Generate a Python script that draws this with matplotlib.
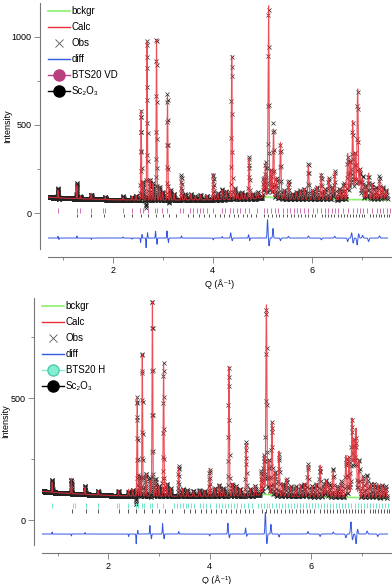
import numpy as np
import matplotlib.pyplot as plt
from matplotlib.lines import Line2D

plt.rcParams['font.family'] = ['Liberation Sans', 'DejaVu Sans']
plt.rcParams['font.size'] = 6.5

# ---------------- top panel: BTS20 VD + Sc2O3 ----------------
bg_top_q = [0.70, 1.0, 1.5, 2.0, 2.5, 3.0, 4.0, 4.8, 5.1, 5.4, 6.0, 7.0, 7.5]
bg_top_i = [90, 85, 80, 76, 74, 74, 76, 80, 92, 80, 78, 76, 76]

peaks_top_q = [0.89, 1.27, 1.34, 1.56, 1.84, 2.20, 2.38, 2.46, 2.56, 2.60, 2.68, 2.74,
               2.80, 2.87, 2.93, 2.99, 3.09, 3.15, 3.22, 3.37, 3.45, 3.56, 3.65, 3.75,
               3.88, 4.01, 4.10, 4.19, 4.27, 4.38, 4.45, 4.50, 4.58, 4.65, 4.73, 4.80,
               4.90, 5.02, 5.06, 5.12, 5.17, 5.22, 5.28, 5.36, 5.43, 5.52, 5.60, 5.68,
               5.76, 5.84, 5.92, 6.00, 6.09, 6.18, 6.25, 6.33, 6.40, 6.45, 6.55, 6.63,
               6.71, 6.76, 6.81, 6.86, 6.91, 6.96, 7.01, 7.07, 7.13, 7.20, 7.27, 7.35,
               7.42, 7.48]
peaks_top_i = [130, 158, 95, 113, 92, 90, 95, 100, 582, 180, 975, 190,
               170, 1000, 150, 120, 667, 130, 110, 203, 110, 110, 96, 105,
               100, 226, 115, 130, 125, 893, 140, 113, 120, 110, 316, 110,
               120, 200, 288, 1186, 250, 480, 200, 401, 130, 175, 110, 120,
               130, 140, 271, 130, 150, 226, 140, 198, 150, 232, 140, 170,
               339, 300, 525, 350, 706, 250, 198, 160, 232, 170, 150, 198,
               150, 130]

diff_top_q = [0.89, 0.91, 1.27, 1.56, 2.20, 2.38, 2.55, 2.58, 2.66, 2.69, 2.85, 2.88,
              3.08, 3.11, 3.37, 4.01, 4.19, 4.36, 4.39, 4.72, 4.74, 5.10, 5.13, 5.21,
              5.36, 5.52, 5.92, 6.18, 6.45, 6.71, 6.79, 6.82, 6.90, 6.93, 7.01, 7.13,
              7.35]
diff_top_a = [10, -8, 12, -8, 6, -6, -25, 20, -55, 30, 40, -35,
              40, -25, 12, -10, 8, 30, -15, 20, -15, 105, -45, 55,
              -15, 10, 12, -10, 10, -20, 30, -30, -40, 25, 15, -20,
              12]
diff_top_offset = -141

refl_vd = [0.89, 1.27, 1.34, 1.56, 1.80, 1.84, 2.20, 2.38, 2.53, 2.60, 2.69, 2.83,
           2.87, 2.97, 3.08, 3.35, 3.41, 3.55, 3.60, 3.68, 3.75, 3.81, 3.88, 4.01,
           4.18, 4.25, 4.34, 4.41, 4.49, 4.55, 4.65, 4.72, 4.89, 5.02, 5.09, 5.17,
           5.24, 5.32, 5.41, 5.49, 5.56, 5.63, 5.69, 5.76, 5.84, 5.92, 6.02, 6.09,
           6.17, 6.25, 6.32, 6.39, 6.45, 6.52, 6.62, 6.72, 6.82, 6.89, 6.96, 7.02,
           7.09, 7.19, 7.29, 7.35, 7.42, 7.49, 7.55]

# ---------------- bottom panel: BTS20 H + Sc2O3 ----------------
bg_bot_q = [0.70, 1.0, 1.5, 2.0, 2.5, 3.0, 4.0, 4.8, 5.1, 5.4, 6.0, 7.0, 7.5]
bg_bot_i = [118, 112, 106, 101, 99, 98, 98, 99, 106, 98, 96, 92, 90]

peaks_bot_q = [0.89, 1.27, 1.54, 1.80, 2.20, 2.40, 2.48, 2.57, 2.62, 2.67, 2.74, 2.83,
               2.87, 2.93, 3.00, 3.09, 3.16, 3.23, 3.39, 3.47, 3.56, 3.68, 3.80, 3.90,
               4.00, 4.10, 4.19, 4.27, 4.38, 4.45, 4.52, 4.60, 4.72, 4.80, 4.90, 5.02,
               5.07, 5.12, 5.17, 5.23, 5.29, 5.37, 5.45, 5.52, 5.60, 5.70, 5.80, 5.87,
               5.94, 6.02, 6.10, 6.18, 6.25, 6.30, 6.36, 6.44, 6.52, 6.60, 6.69, 6.75,
               6.81, 6.85, 6.89, 6.95, 7.03, 7.11, 7.18, 7.25, 7.32, 7.40, 7.47]
peaks_bot_i = [156, 172, 135, 120, 120, 127, 125, 504, 180, 689, 190, 164,
               910, 170, 140, 648, 150, 130, 213, 130, 125, 120, 125, 120,
               213, 130, 145, 130, 630, 150, 140, 130, 315, 130, 140, 200,
               266, 890, 250, 402, 200, 283, 150, 170, 140, 140, 145, 150,
               221, 140, 150, 225, 150, 164, 150, 205, 140, 160, 266, 260,
               418, 330, 377, 250, 180, 176, 150, 150, 150, 145, 140]

diff_bot_q = [0.89, 1.27, 1.54, 2.40, 2.55, 2.58, 2.82, 2.85, 3.07, 3.10, 3.39, 4.00,
              4.36, 4.39, 4.71, 4.73, 5.10, 5.13, 5.21, 5.37, 5.94, 6.18, 6.44, 6.69,
              6.79, 6.82, 6.89, 6.92, 7.11, 7.32]
diff_bot_a = [8, -8, 6, -10, -40, 15, 35, -20, 45, -20, 10, -8,
              45, -15, 25, -10, 90, -40, 40, -12, 10, -10, 8, -15,
              50, -25, -40, 20, 12, -10]
diff_bot_offset = -57

refl_h = [0.89, 1.31, 1.35, 1.56, 1.80, 2.18, 2.22, 2.38, 2.54, 2.58, 2.66, 2.70,
          2.83, 2.87, 2.97, 3.08, 3.30, 3.36, 3.42, 3.48, 3.53, 3.58, 3.64, 3.70,
          3.80, 3.86, 3.92, 4.00, 4.12, 4.18, 4.24, 4.30, 4.36, 4.42, 4.48, 4.54,
          4.62, 4.68, 4.76, 4.84, 4.95, 5.02, 5.08, 5.13, 5.18, 5.24, 5.30, 5.36,
          5.42, 5.48, 5.54, 5.60, 5.66, 5.72, 5.78, 5.84, 5.90, 5.96, 6.02, 6.08,
          6.14, 6.20, 6.26, 6.32, 6.38, 6.44, 6.50, 6.56, 6.62, 6.68, 6.74, 6.80,
          6.86, 6.92, 6.98, 7.04, 7.10, 7.16, 7.22, 7.28, 7.34, 7.40, 7.46, 7.52]

refl_sc2o3 = [1.276, 1.563, 1.805, 2.210, 2.387, 2.552, 2.707, 2.853, 2.992, 3.126,
              3.253, 3.494, 3.609, 3.720, 3.828, 3.933, 4.035, 4.135, 4.232, 4.327,
              4.420, 4.511, 4.601, 4.688, 4.774, 4.859, 5.024, 5.104, 5.183, 5.261,
              5.338, 5.414, 5.488, 5.562, 5.635, 5.706, 5.777, 5.847, 5.917, 5.985,
              6.053, 6.186, 6.251, 6.316, 6.380, 6.443, 6.506, 6.569, 6.630, 6.691,
              6.752, 6.812, 6.871, 6.930, 6.989, 7.047, 7.162, 7.218, 7.274, 7.330,
              7.385, 7.440, 7.495, 7.549]

q = np.geomspace(0.70, 7.51, 2400)


def peak_sum(centres, amps, base_width):
    out = np.zeros_like(q)
    for c, a in zip(centres, amps):
        w = base_width + 0.0012 * c
        out += a * np.exp(-0.5 * ((q - c) / w) ** 2)
    return out


def panel(ax, bg_q, bg_i, pk_q, pk_i, d_q, d_a, d_off, phase_refl, phase_col,
          refl_rows, ylim, yticks, ylab_minor, ylab_x):
    bg = np.interp(q, bg_q, bg_i)
    amps = np.array(pk_i) - np.interp(pk_q, bg_q, bg_i)
    calc = bg + peak_sum(pk_q, amps, 0.004)
    resid = peak_sum(d_q, d_a, 0.002)
    obs = calc + resid

    ax.plot(q, bg, color='#8cf06c', lw=1.2, zorder=1)
    ax.plot(q, obs, ls='none', marker='x', ms=3.5, mew=0.5, color='#222222', zorder=2)
    ax.plot(q, calc, color='#e8303a', lw=0.8, alpha=0.85, zorder=3)
    ax.plot(q, resid + d_off, color='#3558e0', lw=0.7, zorder=3)

    (r1a, r1b), (r2a, r2b) = refl_rows
    ax.vlines(phase_refl, r1a, r1b, color=phase_col, lw=0.7)
    ax.vlines(refl_sc2o3, r2a, r2b, color='#555555', lw=0.7)

    ax.set_xlim(0.69, 7.6)
    ax.set_ylim(*ylim)
    ax.set_xticks([2, 4, 6])
    ax.set_xticks([1, 3, 5, 7], minor=True)
    ax.set_yticks(yticks)
    ax.set_yticks(ylab_minor, minor=True)
    for s in ['top', 'right']:
        ax.spines[s].set_visible(False)
    for s in ['left', 'bottom']:
        ax.spines[s].set_position(('outward', 6))
        ax.spines[s].set_color('#777777')
        ax.spines[s].set_linewidth(0.8)
    ax.tick_params(which='major', length=4, width=0.6, color='#777777', labelsize=6.5, pad=2)
    ax.tick_params(which='minor', length=2.5, width=0.6, color='#777777')
    ax.set_xlabel('Q (Å⁻¹)', fontsize=6.5, labelpad=3)
    ax.set_ylabel('Intensity', fontsize=6.5)
    ax.yaxis.set_label_coords(ylab_x, 0.5)


fig = plt.figure(figsize=(3.92, 5.84), dpi=100)
ax1 = fig.add_axes([48 / 392, 1 - 249 / 584, 344 / 392, 246 / 584])
ax2 = fig.add_axes([42 / 392, 1 - 545 / 584, 350 / 392, 247 / 584])

panel(ax1, bg_top_q, bg_top_i, peaks_top_q, peaks_top_i, diff_top_q, diff_top_a,
      diff_top_offset, refl_vd, '#d070b8', ((2, 27), (-21, -2)),
      (-203, 1190), [0, 500, 1000], [250, 750], (12 - 48) / 344)
panel(ax2, bg_bot_q, bg_bot_i, peaks_bot_q, peaks_bot_i, diff_bot_q, diff_bot_a,
      diff_bot_offset, refl_h, '#6ee8c8', ((49, 70), (29, 45)),
      (-102, 910), [0, 500], [250, 750], (10 - 42) / 350)


def legend(ax, phase_label, phase_col, phase_edge):
    handles = [
        Line2D([], [], color='#8cf06c', lw=1.2),
        Line2D([], [], color='#e8303a', lw=1.0),
        Line2D([], [], ls='none', marker='x', ms=6, mew=0.6, color='#555555'),
        Line2D([], [], color='#3558e0', lw=1.0),
        Line2D([], [], color=phase_col, lw=1.0, marker='o', ms=8,
               mfc=phase_col, mec=phase_edge),
        Line2D([], [], color='black', lw=1.0, marker='o', ms=8, mfc='black'),
    ]
    labels = ['bckgr', 'Calc', 'Obs', 'diff', phase_label, 'Sc₂O₃']
    ax.legend(handles, labels, loc='upper left', bbox_to_anchor=(-0.005, 0.995),
              frameon=False, fontsize=7, handlelength=2.2, handletextpad=0.2,
              labelspacing=0.62, borderpad=0.2, borderaxespad=0, numpoints=1)


legend(ax1, 'BTS20 VD', '#b84080', '#b84080')
legend(ax2, 'BTS20 H', '#80f0d0', '#50c8b0')

fig.savefig('out.png', dpi=100)
